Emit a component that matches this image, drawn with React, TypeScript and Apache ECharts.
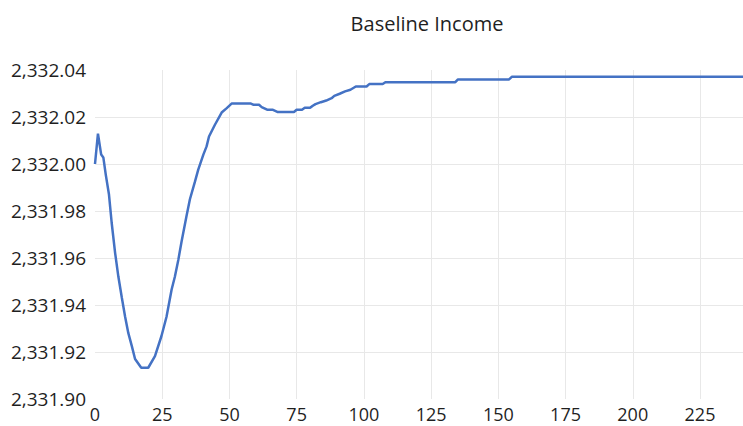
import React, { useEffect, useRef } from "react";
import * as echarts from "echarts";

const TITLE = "Baseline Income";

// Period (x) and baseline income value (y)
const periods: number[] = [
  0, 1.1, 2.3, 3.1, 4.0, 5.2, 6.2, 7.5, 8.7, 10.0, 11.2, 12.4, 13.7, 14.9,
  17.2, 19.8, 22.3, 24.7, 26.6, 28.5, 29.7, 31.0, 32.2, 34.0, 35.3, 37.2,
  38.4, 40.3, 41.5, 42.4, 44.6, 47.1, 49.0, 50.8, 58, 59, 61, 62, 64, 66,
  68, 74, 75, 77, 78, 80, 81, 82, 84, 86, 88, 89, 91, 93, 95, 97, 101, 102,
  107, 108, 134, 135, 154, 155, 241,
];
const income: number[] = [
  2332.0, 2332.0129, 2332.004, 2332.0028, 2331.9955, 2331.987, 2331.975,
  2331.962, 2331.952, 2331.943, 2331.935, 2331.928, 2331.9225, 2331.917,
  2331.9133, 2331.9133, 2331.9182, 2331.9267, 2331.935, 2331.9466, 2331.952,
  2331.9593, 2331.967, 2331.9777, 2331.985, 2331.9926, 2331.9976, 2332.004,
  2332.0075, 2332.0117, 2332.0167, 2332.0219, 2332.0238, 2332.0257,
  2332.0257, 2332.0252, 2332.0252, 2332.0242, 2332.0231, 2332.0231,
  2332.0221, 2332.0221, 2332.0231, 2332.0231, 2332.0239, 2332.0239,
  2332.0248, 2332.0255, 2332.0263, 2332.027, 2332.028, 2332.029, 2332.0299,
  2332.0309, 2332.0316, 2332.033, 2332.033, 2332.034, 2332.034, 2332.0348,
  2332.0348, 2332.036, 2332.036, 2332.0371, 2332.0371,
];

const X_MIN = 0;
const X_MAX = 241;
const X_STEP = 25;
const Y_MIN = 2331.9;
const Y_MAX = 2332.04;
const Y_STEP = 0.02;

const FONT = "'Open Sans', 'Noto Sans', sans-serif";

export default function App() {
  const ref = useRef<HTMLDivElement>(null);

  useEffect(() => {
    if (!ref.current) return;
    const chart = echarts.init(ref.current, null, { renderer: "svg" });
    const data = periods.map((p, i) => [p, income[i]]);
    chart.setOption({
      animation: false,
      backgroundColor: "#ffffff",
      title: {
        text: TITLE,
        left: 422,
        top: 8,
        textAlign: "center",
        textStyle: {
          fontFamily: FONT,
          fontSize: 20,
          fontWeight: "normal",
          color: "#1f1f1f",
        },
      },
      grid: { left: 95, right: 0, top: 70, bottom: 27 },
      xAxis: {
        type: "value",
        min: X_MIN,
        max: X_MAX,
        interval: X_STEP,
        axisLine: { show: false },
        axisTick: { show: false },
        axisLabel: {
          margin: 6,
          fontFamily: FONT,
          fontSize: 18,
          lineHeight: 17,
          color: "#1f1f1f",
          showMaxLabel: false,
          formatter: (v: number) => (v % X_STEP === 0 ? String(v) : ""),
        },
        splitLine: {
          show: true,
          showMinLine: false,
          showMaxLine: false,
          lineStyle: { color: "#e8e8e8", width: 1 },
        },
      },
      yAxis: {
        type: "value",
        min: Y_MIN,
        max: Y_MAX,
        interval: Y_STEP,
        axisLine: { show: false },
        axisTick: { show: false },
        axisLabel: {
          margin: 9,
          fontFamily: FONT,
          fontSize: 19,
          color: "#1f1f1f",
          formatter: (v: number) =>
            v.toLocaleString("en-US", {
              minimumFractionDigits: 2,
              maximumFractionDigits: 2,
            }),
        },
        splitLine: {
          show: true,
          showMinLine: false,
          showMaxLine: false,
          lineStyle: { color: "#e8e8e8", width: 1 },
        },
      },
      series: [
        {
          type: "line",
          data,
          showSymbol: false,
          symbol: "none",
          lineStyle: { color: "#4472C4", width: 2.5 },
        },
      ],
    });
    return () => chart.dispose();
  }, []);

  return (
    <div
      ref={ref}
      style={{ width: 743, height: 426, position: "fixed", left: 0, top: 0 }}
    />
  );
}
